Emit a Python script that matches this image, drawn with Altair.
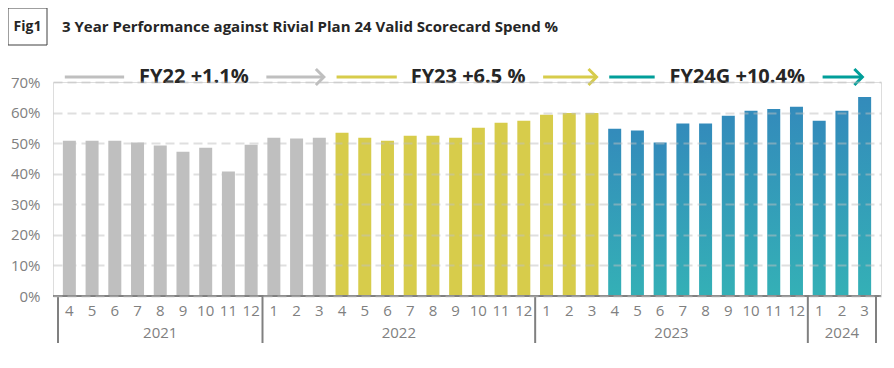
import altair as alt
import pandas as pd

# ---------------- data ----------------
months = [4, 5, 6, 7, 8, 9, 10, 11, 12,
          1, 2, 3, 4, 5, 6, 7, 8, 9, 10, 11, 12,
          1, 2, 3, 4, 5, 6, 7, 8, 9, 10, 11, 12,
          1, 2, 3]
years = [2021] * 9 + [2022] * 12 + [2023] * 12 + [2024] * 3
fiscal = ["FY22"] * 12 + ["FY23"] * 12 + ["FY24G"] * 12
values = [50.8, 50.8, 50.8, 50.2, 49.2, 47.2, 48.5, 40.7, 49.5, 51.8, 51.5, 51.8,
          53.4, 51.8, 50.8, 52.4, 52.4, 51.8, 55.0, 56.7, 57.3, 59.3, 59.9, 59.9,
          54.7, 54.1, 50.2, 56.4, 56.4, 59.0, 60.6, 61.2, 61.9, 57.3, 60.6, 65.1]

groups = ["FY22", "FY23", "FY24G"]
group_labels = ["FY22 +1.1%", "FY23 +6.5 %", "FY24G +10.4%"]
# annotation anchors along the month axis (bar-index units)
lead_start = [-0.2, 11.76, 23.76]
lead_end = [2.41, 14.41, 25.76]
label_start = [3.07, 15.02, 26.41]
arrow_start = [8.67, 20.85, 33.15]
arrow_end = [11.2, 23.2, 34.9]

title_text = "3 Year Performance against Rivial Plan 24 Valid Scorecard Spend %"
fig_text = "Fig1"
y_ticks = [0, 10, 20, 30, 40, 50, 60, 70]

# ---------------- frames ----------------
df = pd.DataFrame({"idx": list(range(len(values))), "month": months,
                   "year": years, "fy": fiscal, "v": values})

yr = df.groupby("year")["idx"].agg(["min", "max"]).reset_index()
yr["center"] = (yr["min"] + yr["max"]) / 2
bounds = sorted(set([b - 0.5 for b in yr["min"]] + [yr["max"].max() + 0.5]))
sep = pd.DataFrame({"b": bounds})

segs = pd.DataFrame({
    "fy": groups * 2,
    "a": lead_start + arrow_start,
    "b": lead_end + arrow_end,
})
labs = pd.DataFrame({"fy": groups, "x": label_start, "t": group_labels})
heads = pd.DataFrame({"fy": groups, "x": arrow_end})
ttl = pd.DataFrame({"t": [title_text], "f": [fig_text]})

# ---------------- styling ----------------
W, H = 828, 214
GREY = "#BFBFBF"
YELLOW = "#D7CC4B"
TEAL = "#009E99"
AXIS_GREY = "#808080"
TEXT = "#262626"
FONT = "Open Sans"

xs = alt.Scale(domain=[-0.5, len(values) - 0.5], nice=False, zero=False)
ys = alt.Scale(domain=[0, 70], nice=False, zero=True)
y_axis = alt.Axis(values=y_ticks, labelExpr="datum.value + '%'", title=None,
                  domain=False, ticks=False, grid=True, gridDash=[9, 5],
                  gridColor="#BFBFBF", gridOpacity=0.5, gridWidth=2,
                  labelFont=FONT, labelFontSize=15, labelColor=AXIS_GREY,
                  labelPadding=13, labelOverlap=False, labelBound=False,
                  labelFlush=False, zindex=1)
stroke_scale = alt.Scale(domain=groups, range=[GREY, YELLOW, TEAL])

bars_a = alt.Chart(df).transform_filter("datum.fy != 'FY24G'").mark_bar(size=13).encode(
    x=alt.X("idx:Q", scale=xs, axis=None),
    y=alt.Y("v:Q", scale=ys, axis=y_axis),
    color=alt.Color("fy:N", scale=alt.Scale(domain=["FY22", "FY23"], range=[GREY, YELLOW]),
                    legend=None),
)

grad = alt.Gradient(gradient="linear", x1=0, y1=0, x2=0, y2=1,
                    stops=[alt.GradientStop(color="#338BBB", offset=0),
                           alt.GradientStop(color="#34B0B6", offset=1)])
bars_b = alt.Chart(df).transform_filter("datum.fy == 'FY24G'").mark_bar(size=13, color=grad).encode(
    x=alt.X("idx:Q", scale=xs, axis=None),
    y=alt.Y("v:Q", scale=ys, axis=y_axis),
)

base_rule = alt.Chart(df).mark_rule(color=AXIS_GREY, strokeWidth=2).encode(
    x=alt.value(0), x2=alt.value(W), y=alt.value(H))

month_txt = alt.Chart(df).mark_text(font=FONT, fontSize=15, color=AXIS_GREY,
                                     baseline="middle").encode(
    x=alt.X("idx:Q", scale=xs, axis=None), y=alt.value(H + 15), text="month:N")

year_txt = alt.Chart(yr).mark_text(font=FONT, fontSize=15, color=AXIS_GREY,
                                    baseline="middle").encode(
    x=alt.X("center:Q", scale=xs, axis=None), y=alt.value(H + 37), text="year:N")

sep_rules = alt.Chart(sep).mark_rule(color=AXIS_GREY, strokeWidth=2).encode(
    x=alt.X("b:Q", scale=xs, axis=None), y=alt.value(H), y2=alt.value(H + 47))

seg_rules = alt.Chart(segs).mark_rule(strokeWidth=3).encode(
    x=alt.X("a:Q", scale=xs, axis=None), x2="b:Q", y=alt.value(-5),
    stroke=alt.Stroke("fy:N", scale=stroke_scale, legend=None))

head_pts = alt.Chart(heads).mark_point(shape="M-1,-1L0,0L-1,1", filled=False, size=256,
                                       strokeWidth=3, opacity=1).encode(
    x=alt.X("x:Q", scale=xs, axis=None), y=alt.value(-5),
    stroke=alt.Stroke("fy:N", scale=stroke_scale, legend=None))

lab_txt = alt.Chart(labs).mark_text(font=FONT, fontSize=20, fontWeight="bold", color=TEXT,
                                     align="left", baseline="middle").encode(
    x=alt.X("x:Q", scale=xs, axis=None), y=alt.value(-5), text="t:N")

title_mark = alt.Chart(ttl).mark_text(font=FONT, fontSize=15, fontWeight="bold", color=TEXT,
                                       align="left", baseline="middle").encode(
    x=alt.value(9), y=alt.value(-55), text="t:N")

fig_box = alt.Chart(ttl).mark_rect(fill="white", stroke="#404040", strokeWidth=1).encode(
    x=alt.value(-45), x2=alt.value(-6), y=alt.value(-74), y2=alt.value(-37))

fig_txt = alt.Chart(ttl).mark_text(font=FONT, fontSize=14, fontWeight="bold", color=TEXT,
                                    align="center", baseline="middle").encode(
    x=alt.value(-25.5), y=alt.value(-55), text="f:N")

chart = alt.layer(
    bars_a, bars_b, base_rule, month_txt, year_txt, sep_rules,
    seg_rules, head_pts, lab_txt, fig_box, fig_txt, title_mark,
).properties(
    width=W, height=H,
    autosize=alt.AutoSizeParams(type="none"),
    padding={"left": 45, "top": 74, "right": 5, "bottom": 64},
).configure_view(stroke=None).configure(background="white")

chart.save("out.html", embed_options={"renderer": "svg", "actions": False})
